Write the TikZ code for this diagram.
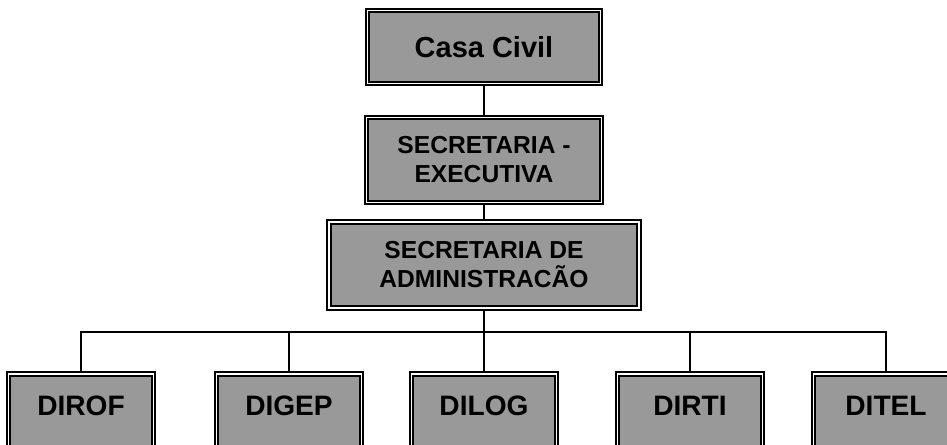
\documentclass[tikz,border=0pt]{standalone}
\usepackage{fontspec}
\setmainfont{Liberation Sans}
\usetikzlibrary{positioning}
\tikzset{
  unit/.style={draw=black, line width=1.1pt, double=white, double distance=0.9pt,
    fill=black!40, align=center, inner sep=0pt,
    font=\bfseries\fontsize{14}{15.5}\selectfont},
  topunit/.style={unit, font=\bfseries\fontsize{16.5}{18}\selectfont},
  dirunit/.style={unit, anchor=north, minimum width=2.9cm,
    text height=0.84cm, text depth=0.78cm, font=\bfseries\fontsize{16}{18}\selectfont},
  link/.style={line width=1.3pt}
}
\begin{document}
\begin{tikzpicture}[x=0.02cm, y=-0.02cm]
    \useasboundingbox (0,0) rectangle (947,444);
    \clip (0,0) rectangle (947,444);
    % top of the chart
    \node[topunit, minimum width=4.66cm, minimum height=1.46cm] (casa) at (484,47) {Casa Civil};
    \node[unit, minimum width=4.7cm, minimum height=1.7cm] (exec) at (484,160) {SECRETARIA -\\[1pt]EXECUTIVA};
    \node[unit, minimum width=6.2cm, minimum height=1.72cm] (adm) at (484,265) {SECRETARIA DE\\[1pt]ADMINISTRACÃO};
    \draw[link] (casa) -- (exec);
    \draw[link] (exec) -- (adm);
    % directorates
    \coordinate (bus) at (484,332);
    \node[dirunit] (dirof) at (81,373) {DIROF};
    \node[dirunit] (digep) at (289,373) {DIGEP};
    \node[dirunit] (dilog) at (484,373) {DILOG};
    \node[dirunit] (dirti) at (690,373) {DIRTI};
    \node[dirunit] (ditel) at (886,373) {DITEL};
    \draw[link] (adm) -- (bus);
    \draw[link] (dirof.north) -- (dirof.north |- bus) -- (ditel.north |- bus) -- (ditel.north);
    \foreach \d in {digep,dilog,dirti}
      \draw[link] (\d.north) -- (\d.north |- bus);
\end{tikzpicture}
\end{document}
